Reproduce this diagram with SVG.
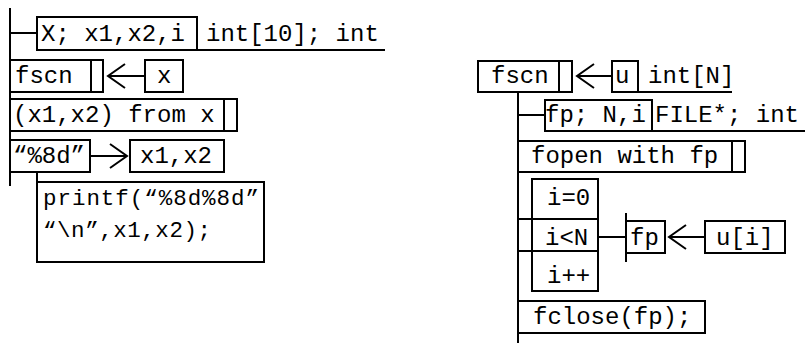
<svg xmlns="http://www.w3.org/2000/svg" width="805" height="344" viewBox="0 0 805 344">
  <style>
    .box { fill: #fff; stroke: #000; stroke-width: 2; }
    .ln { fill: none; stroke: #000; stroke-width: 2; }
    .arr { fill: none; stroke: #000; stroke-width: 2; marker-end: url(#chev); }
    text { font-family: "Liberation Mono", "Courier New", monospace; font-size: 24px; fill: #000; }
    .small { font-size: 22.5px; }
  </style>
  <defs>
    <marker id="chev" markerWidth="22" markerHeight="28" refX="19" refY="14" orient="auto" markerUnits="userSpaceOnUse">
      <path d="M2,2 L19,14 L2,26" fill="none" stroke="#000" stroke-width="2"/>
    </marker>
  </defs>

  <!-- connectors: spines, branches and data-flow arrows -->
  <g id="connectors">
    <line class="ln" x1="10" y1="8" x2="10" y2="186"/>
    <line class="ln" x1="10" y1="33" x2="37" y2="33"/>
    <line class="arr" x1="145" y1="76" x2="108" y2="76"/>
    <line class="arr" x1="90" y1="156" x2="127" y2="156"/>
    <line class="ln" x1="37" y1="172" x2="37" y2="182"/>

    <line class="ln" x1="518" y1="92" x2="518" y2="343"/>
    <line class="arr" x1="612" y1="76" x2="577" y2="76"/>
    <line class="ln" x1="518" y1="115" x2="545" y2="115"/>
    <line class="ln" x1="598" y1="237" x2="626" y2="237"/>
    <line class="ln" x1="626" y1="213" x2="626" y2="262"/>
    <line class="arr" x1="705" y1="237" x2="669" y2="237"/>
  </g>

  <!-- left program -->
  <g id="decl-left">
    <rect class="box" x="37" y="17" width="160" height="33"/>
    <text x="41" y="41">X; x1,x2,i</text>
    <text x="206" y="41">int[10]; int</text>
    <line class="ln" x1="197" y1="50" x2="385" y2="50"/>
  </g>
  <g id="fscn-left">
    <rect class="box" x="10" y="60" width="93" height="32"/>
    <line class="ln" x1="91" y1="60" x2="91" y2="92"/>
    <text x="15" y="83">fscn</text>
  </g>
  <g id="x-arg">
    <rect class="box" x="145" y="60" width="38" height="32"/>
    <text x="157" y="83">x</text>
  </g>
  <g id="from-x">
    <rect class="box" x="10" y="99" width="227" height="32"/>
    <line class="ln" x1="224" y1="99" x2="224" y2="131"/>
    <text x="13" y="122">(x1,x2) from x</text>
  </g>
  <g id="fmt">
    <rect class="box" x="10" y="140" width="80" height="32"/>
    <text x="13" y="163">“%8d”</text>
  </g>
  <g id="x1x2">
    <rect class="box" x="130" y="140" width="94" height="32"/>
    <text x="140" y="163">x1,x2</text>
  </g>
  <g id="printf">
    <rect class="box" x="37" y="182" width="227" height="80"/>
    <text class="small" x="43" y="205" textLength="216" lengthAdjust="spacing">printf(“%8d%8d”</text>
    <text class="small" x="43" y="237" textLength="168" lengthAdjust="spacing">“\n”,x1,x2);</text>
  </g>

  <!-- right program -->
  <g id="fscn-right">
    <rect class="box" x="478" y="61" width="94" height="31"/>
    <line class="ln" x1="559" y1="61" x2="559" y2="92"/>
    <text x="491" y="83">fscn</text>
  </g>
  <g id="u-arg">
    <rect class="box" x="612" y="61" width="26" height="31"/>
    <text x="615" y="83">u</text>
    <text x="648" y="83">int[N]</text>
    <line class="ln" x1="638" y1="92" x2="732" y2="92"/>
  </g>
  <g id="decl-right">
    <rect class="box" x="545" y="100" width="107" height="31"/>
    <text x="545" y="122">fp; N,i</text>
    <text x="655" y="122">FILE*; int</text>
    <line class="ln" x1="652" y1="131" x2="806" y2="131"/>
  </g>
  <g id="fopen">
    <rect class="box" x="518" y="141" width="227" height="31"/>
    <line class="ln" x1="732" y1="141" x2="732" y2="172"/>
    <text x="531" y="163">fopen with fp</text>
  </g>
  <g id="loop">
    <rect class="box" x="532" y="179" width="66" height="112"/>
    <rect class="box" x="518" y="219" width="80" height="32"/>
    <line class="ln" x1="532" y1="219" x2="532" y2="251"/>
    <text x="547" y="205">i=0</text>
    <text x="545" y="245">i&lt;N</text>
    <text x="547" y="283">i++</text>
  </g>
  <g id="fp">
    <rect class="box" x="626" y="221" width="39" height="32"/>
    <text x="630" y="245">fp</text>
  </g>
  <g id="u-elem">
    <rect class="box" x="705" y="221" width="80" height="32"/>
    <text x="716" y="245">u[i]</text>
  </g>
  <g id="fclose">
    <rect class="box" x="518" y="301" width="187" height="32"/>
    <text x="533" y="324">fclose(fp);</text>
  </g>
</svg>
